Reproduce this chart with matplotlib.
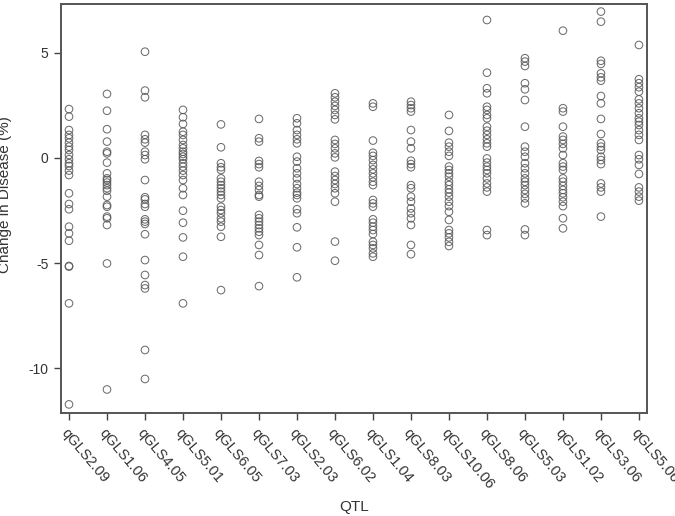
import matplotlib
matplotlib.use("Agg")
import matplotlib.pyplot as plt

# ---------------- Data ----------------
qtl_names = ["qGLS2.09", "qGLS1.06", "qGLS4.05", "qGLS5.01", "qGLS6.05", "qGLS7.03",
             "qGLS2.03", "qGLS6.02", "qGLS1.04", "qGLS8.03", "qGLS10.06", "qGLS8.06",
             "qGLS5.03", "qGLS1.02", "qGLS3.06", "qGLS5.06"]

gls2_09 = [2.33, 1.97, 1.33, 1.10, 0.94, 0.73, 0.54, 0.38, 0.14, -0.06, -0.25, -0.38,
           -0.60, -0.81, -1.68, -2.19, -2.44, -3.27, -3.59, -3.94, -5.14, -5.17, -6.92, -11.73]
gls1_06 = [3.05, 2.25, 1.37, 0.78, 0.30, 0.22, -0.22, -0.73, -0.97, -1.05, -1.17, -1.29,
           -1.44, -1.56, -1.84, -2.24, -2.32, -2.79, -2.87, -3.19, -5.02, -11.02]
gls4_05 = [5.06, 3.21, 2.89, 1.10, 0.89, 0.73, 0.30, 0.14, -0.06, -1.05, -1.87, -1.97,
           -2.19, -2.32, -2.92, -3.03, -3.14, -3.63, -4.86, -5.57, -6.05, -6.21, -9.14, -10.52]
gls5_01 = [2.29, 1.94, 1.62, 1.25, 1.10, 0.86, 0.62, 0.46, 0.30, 0.19, 0.06, -0.06,
           -0.25, -0.41, -0.60, -0.81, -1.05, -1.44, -1.76, -2.51, -3.08, -3.78, -4.70, -6.92]
gls6_05 = [1.60, 0.51, -0.25, -0.44, -0.57, -0.97, -1.13, -1.29, -1.44, -1.60, -1.76,
           -1.92, -2.32, -2.48, -2.63, -2.87, -3.03, -3.27, -3.75, -6.29]
gls7_03 = [1.86, 0.94, 0.78, -0.14, -0.29, -0.44, -1.13, -1.33, -1.52, -1.76, -1.84,
           -2.71, -2.87, -3.03, -3.19, -3.35, -3.51, -3.67, -4.14, -4.62, -6.10]
gls2_03 = [1.89, 1.65, 1.33, 1.10, 0.89, 0.70, 0.06, -0.17, -0.49, -0.73, -0.97, -1.24,
           -1.44, -1.65, -1.76, -1.92, -2.44, -2.63, -3.30, -4.25, -5.68]
gls6_02 = [3.08, 2.89, 2.68, 2.48, 2.29, 2.05, 1.84, 0.86, 0.67, 0.46, 0.22, 0.03,
           -0.65, -0.86, -1.05, -1.24, -1.44, -1.68, -2.08, -3.98, -4.89]
gls1_04 = [2.60, 2.44, 0.83, 0.25, 0.10, -0.10, -0.33, -0.54, -0.73, -0.92, -1.13, -1.29,
           -2.00, -2.16, -2.32, -2.92, -3.08, -3.27, -3.43, -3.62, -3.99, -4.14, -4.30,
           -4.54, -4.70]
gls8_03 = [2.68, 2.52, 2.37, 2.21, 1.33, 0.78, 0.46, -0.13, -0.29, -0.44, -1.29, -1.44,
           -1.84, -2.08, -2.40, -2.63, -2.87, -3.19, -4.14, -4.58]
gls10_06 = [2.05, 1.29, 0.73, 0.54, 0.30, 0.10, -0.41, -0.57, -0.73, -0.89, -1.13, -1.29,
            -1.49, -1.65, -1.84, -2.08, -2.29, -2.56, -2.95, -3.43, -3.59, -3.78, -3.99, -4.19]
gls8_06 = [6.57, 4.06, 3.32, 3.08, 2.44, 2.29, 2.05, 1.89, 1.49, 1.30, 1.10, 0.89, 0.70,
           0.54, -0.02, -0.22, -0.41, -0.57, -0.73, -0.97, -1.21, -1.40, -1.60, -3.43, -3.67]
gls5_03 = [4.75, 4.59, 4.38, 3.56, 3.27, 2.76, 1.49, 0.54, 0.30, 0.06, -0.25, -0.49,
           -0.73, -0.97, -1.13, -1.29, -1.52, -1.71, -1.92, -2.16, -3.40, -3.67]
gls1_02 = [6.06, 2.37, 2.21, 1.49, 1.02, 0.86, 0.67, 0.46, 0.14, -0.25, -0.41, -0.57,
           -0.97, -1.13, -1.33, -1.52, -1.68, -1.87, -2.08, -2.29, -2.87, -3.35]
gls3_06 = [6.97, 6.49, 4.63, 4.48, 4.03, 3.84, 3.68, 2.95, 2.60, 1.86, 1.14, 0.70, 0.54,
           0.38, 0.06, -0.10, -0.29, -1.21, -1.40, -1.60, -2.79]
gls5_06 = [5.38, 3.75, 3.56, 3.37, 3.16, 2.79, 2.60, 2.37, 2.13, 1.89, 1.73, 1.57, 1.33,
           1.10, 0.86, 0.14, -0.06, -0.33, -0.76, -1.40, -1.60, -1.84, -2.03]

all_values = [gls2_09, gls1_06, gls4_05, gls5_01, gls6_05, gls7_03, gls2_03, gls6_02,
              gls1_04, gls8_03, gls10_06, gls8_06, gls5_03, gls1_02, gls3_06, gls5_06]

y_ticks = [5, 0, -5, -10]

# ---------------- Plot ----------------
plt.rcParams["font.family"] = ["Liberation Sans", "DejaVu Sans"]
plt.rcParams["axes.unicode_minus"] = False

fig = plt.figure(figsize=(6.75, 5.16), dpi=100)
ax = fig.add_axes([0.0904, 0.1996, 0.868, 0.7926])

for i, vals in enumerate(all_values):
    ax.scatter([i] * len(vals), vals, s=30, facecolors="none",
               edgecolors="#555555", linewidths=0.75, alpha=0.85)

ax.set_xlim(-0.21, 15.21)
ax.set_ylim(-12.14, 7.33)

ax.set_yticks(y_ticks)
ax.set_yticklabels([str(t) for t in y_ticks])
ax.set_xticks(range(len(qtl_names)))
# labels hang from the tick and run steeply down to the right
ax.set_xticklabels(qtl_names, rotation=-50, ha="left", va="top",
                   rotation_mode="anchor")

ax.tick_params(axis="both", direction="out", length=5, width=1.0,
               color="#444444", labelcolor="#333333", labelsize=10, pad=4)
ax.tick_params(axis="x", labelsize=10.5)

for sp in ax.spines.values():
    sp.set_color("#555555")
    sp.set_linewidth(1.4)

ax.set_xlabel("QTL", fontsize=11, color="#333333")
ax.xaxis.set_label_coords(0.5, -0.212)
ax.set_ylabel("Change in Disease (%)", fontsize=11, color="#333333")
ax.yaxis.set_label_coords(-0.084, 0.533)

fig.savefig("out.png", dpi=100)
plt.close(fig)
